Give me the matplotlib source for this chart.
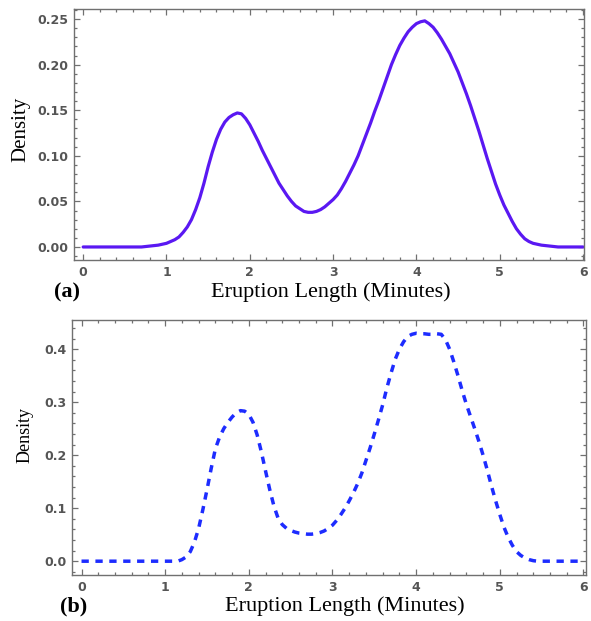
import numpy as np
import matplotlib
matplotlib.use("Agg")
import matplotlib.pyplot as plt
from matplotlib.ticker import MultipleLocator, FormatStrFormatter

# ---- data ----
x_a = [0.0, 0.1, 0.2, 0.3, 0.4, 0.5, 0.6, 0.7, 0.8, 0.9,
       1.0, 1.05, 1.1, 1.15, 1.2, 1.25, 1.3, 1.35, 1.4, 1.45,
       1.5, 1.55, 1.6, 1.65, 1.7, 1.75, 1.8, 1.85, 1.9, 1.95,
       2.0, 2.05, 2.1, 2.15, 2.2, 2.25, 2.3, 2.35, 2.4, 2.45,
       2.5, 2.55, 2.6, 2.65, 2.7, 2.75, 2.8, 2.85, 2.9, 2.95,
       3.0, 3.05, 3.1, 3.15, 3.2, 3.25, 3.3, 3.35, 3.4, 3.45,
       3.5, 3.55, 3.6, 3.65, 3.7, 3.75, 3.8, 3.85, 3.9, 3.95,
       4.0, 4.05, 4.1, 4.15, 4.2, 4.25, 4.3, 4.35, 4.4, 4.45,
       4.5, 4.55, 4.6, 4.65, 4.7, 4.75, 4.8, 4.85, 4.9, 4.95,
       5.0, 5.05, 5.1, 5.15, 5.2, 5.25, 5.3, 5.35, 5.4, 5.45,
       5.5, 5.6, 5.7, 5.8, 5.9, 6.0]
density_a = [0.0, 0.0, 0.0, 0.0, 0.0, 0.0, 0.0, 0.0, 0.001, 0.002,
             0.004, 0.006, 0.008, 0.011, 0.016, 0.022, 0.030, 0.041, 0.054, 0.070,
             0.088, 0.104, 0.118, 0.129, 0.137, 0.142, 0.145, 0.147, 0.146, 0.141,
             0.134, 0.125, 0.116, 0.106, 0.097, 0.088, 0.079, 0.070, 0.063, 0.056,
             0.050, 0.045, 0.042, 0.039, 0.038, 0.038, 0.039, 0.041, 0.044, 0.048,
             0.052, 0.057, 0.064, 0.072, 0.081, 0.090, 0.100, 0.112, 0.124, 0.136,
             0.149, 0.161, 0.174, 0.187, 0.200, 0.211, 0.221, 0.229, 0.236, 0.241,
             0.245, 0.247, 0.248, 0.245, 0.241, 0.235, 0.228, 0.220, 0.212, 0.202,
             0.192, 0.180, 0.168, 0.155, 0.141, 0.127, 0.112, 0.097, 0.083, 0.069,
             0.057, 0.046, 0.037, 0.028, 0.020, 0.014, 0.009, 0.006, 0.004, 0.003,
             0.002, 0.001, 0.0, 0.0, 0.0, 0.0]

x_b = [0.0, 0.1, 0.2, 0.3, 0.4, 0.5, 0.6, 0.7, 0.8, 0.9,
       1.0, 1.1, 1.15, 1.2, 1.25, 1.3, 1.35, 1.4, 1.45,
       1.5, 1.55, 1.6, 1.65, 1.7, 1.75, 1.8, 1.85, 1.9, 1.95,
       2.0, 2.05, 2.1, 2.15, 2.2, 2.25, 2.3, 2.35, 2.4, 2.45,
       2.5, 2.55, 2.6, 2.65, 2.7, 2.75, 2.8, 2.85, 2.9, 2.95,
       3.0, 3.05, 3.1, 3.15, 3.2, 3.25, 3.3, 3.35, 3.4, 3.45,
       3.5, 3.55, 3.6, 3.65, 3.7, 3.75, 3.8, 3.85, 3.9, 3.95,
       4.0, 4.05, 4.1, 4.15, 4.2, 4.25, 4.3, 4.35, 4.4, 4.45,
       4.5, 4.55, 4.6, 4.65, 4.7, 4.75, 4.8, 4.85, 4.9, 4.95,
       5.0, 5.05, 5.1, 5.15, 5.2, 5.25, 5.3, 5.35, 5.4, 5.45,
       5.5, 5.6, 5.7, 5.8, 5.9, 6.0]
density_b = [0.0, 0.0, 0.0, 0.0, 0.0, 0.0, 0.0, 0.0, 0.0, 0.0,
             0.0, 0.0, 0.0, 0.003, 0.008, 0.018, 0.036, 0.062, 0.097,
             0.135, 0.175, 0.212, 0.234, 0.250, 0.262, 0.272, 0.280, 0.284, 0.283,
             0.277, 0.262, 0.238, 0.206, 0.170, 0.135, 0.104, 0.081, 0.069, 0.062,
             0.058, 0.055, 0.053, 0.052, 0.051, 0.051, 0.052, 0.054, 0.057, 0.062,
             0.068, 0.077, 0.088, 0.100, 0.114, 0.129, 0.146, 0.166, 0.190, 0.214,
             0.240, 0.267, 0.295, 0.327, 0.355, 0.381, 0.400, 0.414, 0.424, 0.428,
             0.430, 0.429, 0.429, 0.428, 0.428, 0.429, 0.428, 0.418, 0.400, 0.376,
             0.350, 0.322, 0.296, 0.273, 0.250, 0.226, 0.200, 0.172, 0.142, 0.114,
             0.088, 0.064, 0.045, 0.030, 0.018, 0.011, 0.006, 0.003, 0.001, 0.0,
             0.0, 0.0, 0.0, 0.0, 0.0, 0.0]

x_ticks = [0, 1, 2, 3, 4, 5, 6]
xlabel = "Eruption Length (Minutes)"
ylabel = "Density"

# ---- figure ----
fig = plt.figure(figsize=(5.91, 6.21), dpi=100)
ax1 = fig.add_axes([0.1252, 0.5813, 0.8628, 0.4042])
ax2 = fig.add_axes([0.1218, 0.0741, 0.8697, 0.4106])

ax1.plot(x_a, density_a, color="#5a18f2", lw=2.3, solid_capstyle="round",
         solid_joinstyle="round")
ax2.plot(x_b, density_b, color="#1d2cff", lw=2.5, linestyle=(0, (2.1, 1.9)),
         dash_capstyle="butt", dash_joinstyle="round")

ax1.set_xlim(-0.11, 6.01)
ax1.set_ylim(-0.0143, 0.261)
ax2.set_xlim(-0.114, 6.03)
ax2.set_ylim(-0.026, 0.455)

ax1.yaxis.set_major_locator(MultipleLocator(0.05))
ax1.yaxis.set_minor_locator(MultipleLocator(0.01))
ax1.yaxis.set_major_formatter(FormatStrFormatter("%.2f"))
ax2.yaxis.set_major_locator(MultipleLocator(0.1))
ax2.yaxis.set_minor_locator(MultipleLocator(0.02))
ax2.yaxis.set_major_formatter(FormatStrFormatter("%.1f"))

frame_col = "#707070"
for ax in (ax1, ax2):
    ax.set_xticks(x_ticks)
    ax.xaxis.set_minor_locator(MultipleLocator(0.2))
    ax.tick_params(which="both", direction="in", top=True, right=True,
                   color=frame_col, width=0.9)
    ax.tick_params(which="major", length=4.0, labelsize=9, labelcolor="#555555",
                   pad=4)
    ax.tick_params(which="minor", length=2.2)
    for s in ax.spines.values():
        s.set_color(frame_col)
        s.set_linewidth(1.0)
    for lab in ax.get_xticklabels() + ax.get_yticklabels():
        lab.set_fontweight("bold")

serif = ["Liberation Serif", "DejaVu Serif"]
fig.text(0.56, 0.5217, xlabel, ha="center", va="baseline", family=serif, fontsize=16)
fig.text(0.113, 0.5217, "(a)", ha="center", va="baseline", family=serif,
         fontsize=16, fontweight="bold")
fig.text(0.584, 0.0161, xlabel, ha="center", va="baseline", family=serif, fontsize=16)
fig.text(0.124, 0.0161, "(b)", ha="center", va="baseline", family=serif,
         fontsize=16, fontweight="bold")
fig.text(0.0355, 0.791, ylabel, ha="center", va="center", rotation=90,
         family=serif, fontsize=15)
fig.text(0.0423, 0.2995, ylabel, ha="center", va="center", rotation=90,
         family=serif, fontsize=13)

fig.savefig("out.png", dpi=100)
